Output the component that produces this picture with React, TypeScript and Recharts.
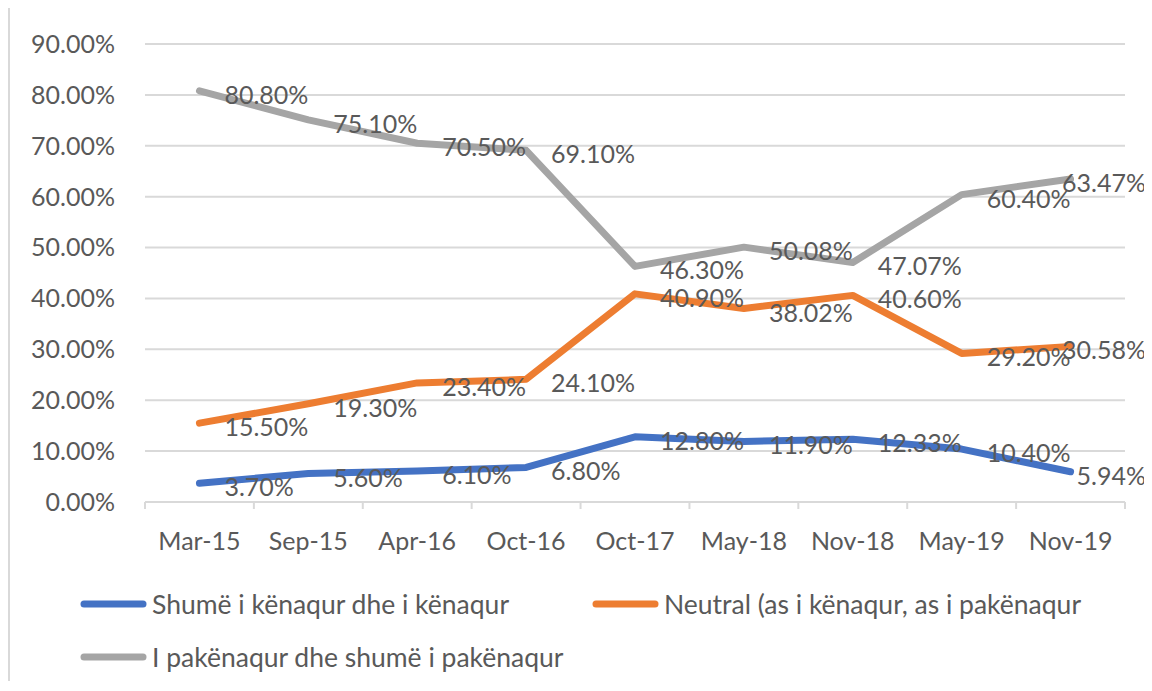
import { LineChart, Line, XAxis, YAxis, CartesianGrid, Legend, LabelList } from 'recharts'

const categories = ['Mar-15', 'Sep-15', 'Apr-16', 'Oct-16', 'Oct-17', 'May-18', 'Nov-18', 'May-19', 'Nov-19']
const satisfied = [3.7, 5.6, 6.1, 6.8, 12.8, 11.9, 12.33, 10.4, 5.94]
const neutral = [15.5, 19.3, 23.4, 24.1, 40.9, 38.02, 40.6, 29.2, 30.58]
const dissatisfied = [80.8, 75.1, 70.5, 69.1, 46.3, 50.08, 47.07, 60.4, 63.47]
const yTicks = [0, 10, 20, 30, 40, 50, 60, 70, 80, 90]

const seriesNames = [
  'Shumë i kënaqur dhe i kënaqur',
  'Neutral (as i kënaqur, as i pakënaqur',
  'I pakënaqur dhe shumë i pakënaqur',
]
const seriesColours = ['#4472C4', '#ED7D31', '#A5A5A5']

const data = categories.map((c, i) => ({
  cat: c,
  s1: satisfied[i],
  s2: neutral[i],
  s3: dissatisfied[i],
}))

// layout
const CHART_W = 1142
const CHART_H = 676
const MARGIN = { top: 39, right: 27, bottom: 119, left: 0 }
const Y_AXIS_W = 135
const PLOT_W = CHART_W - MARGIN.left - MARGIN.right - Y_AXIS_W
const BAND = PLOT_W / categories.length

const FONT = 'Lato, "Open Sans", sans-serif'
const TEXT = '#595959'
const GRID = '#d9d9d9'

const fmt = (v: number) => `${v.toFixed(2)}%`

const XTick = (props: any) => {
  const { x, y, payload, index } = props
  const half = BAND / 2
  return (
    <g>
      <line x1={x - half} y1={y} x2={x - half} y2={y + 7} stroke={GRID} strokeWidth={2} />
      {index === categories.length - 1 && (
        <line x1={x + half} y1={y} x2={x + half} y2={y + 7} stroke={GRID} strokeWidth={2} />
      )}
      <text x={x} y={y + 38} textAnchor="middle" dominantBaseline="central" fill={TEXT} fontSize={25} fontFamily={FONT}>
        {payload.value}
      </text>
    </g>
  )
}

// Excel "right" labels, the last ones pushed back inside the chart area
const PointLabel = (props: any) => {
  const { x, y, value, index } = props
  const last = index === categories.length - 1
  return (
    <text
      x={last ? CHART_W - 6 : x + 25}
      y={y + 3}
      textAnchor={last ? 'end' : 'start'}
      dominantBaseline="central"
      fill={TEXT}
      fontSize={25}
      fontFamily={FONT}
    >
      {fmt(value)}
    </text>
  )
}

const legendSpots = [
  { left: 70, top: 29 },
  { left: 582, top: 29 },
  { left: 70, top: 82 },
]

const LegendBox = ({ payload }: any) => {
  // keep the series order, not the draw order
  const items = seriesNames.map((n) => (payload || []).find((p: any) => p.value === n)).filter(Boolean)
  return (
    <div style={{ position: 'relative', width: CHART_W, height: 110 }}>
      {items.map((p: any, i: number) => (
        <div
          key={i}
          style={{
            position: 'absolute',
            left: legendSpots[i].left,
            top: legendSpots[i].top,
            transform: 'translateY(-50%)',
            display: 'flex',
            alignItems: 'center',
            whiteSpace: 'nowrap',
          }}
        >
          <svg width={67} height={10}>
            <line x1={4} y1={5} x2={63} y2={5} stroke={p.color} strokeWidth={7} strokeLinecap="round" />
          </svg>
          <span style={{ marginLeft: 5, color: TEXT, fontSize: 26.5, fontFamily: FONT }}>{p.value}</span>
        </div>
      ))}
    </div>
  )
}

export default function App() {
  return (
    <div
      style={{
        marginTop: -5,
        width: CHART_W,
        height: CHART_H,
        borderLeft: `2px solid ${GRID}`,
        borderTop: `2px solid ${GRID}`,
        position: 'relative',
        overflow: 'hidden',
        background: '#fff',
      }}
    >
      <LineChart width={CHART_W} height={CHART_H} data={data} margin={MARGIN}>
        <CartesianGrid vertical={false} stroke={GRID} strokeWidth={2} />
        <XAxis
          dataKey="cat"
          padding={{ left: BAND / 2, right: BAND / 2 }}
          axisLine={{ stroke: GRID, strokeWidth: 2 }}
          tickLine={false}
          tickSize={0}
          tickMargin={0}
          height={60}
          interval={0}
          tick={<XTick />}
        />
        <YAxis
          width={Y_AXIS_W}
          domain={[0, 90]}
          ticks={yTicks}
          tickFormatter={fmt}
          axisLine={false}
          tickLine={false}
          tickSize={0}
          tickMargin={30}
          tick={{ fill: TEXT, fontSize: 25, fontFamily: FONT }}
        />
        <Legend
          verticalAlign="middle"
          align="center"
          layout="horizontal"
          wrapperStyle={{ left: 0, top: 570, width: CHART_W, height: 110 }}
          content={<LegendBox />}
        />
        {['s1', 's2', 's3'].map((k, i) => (
          <Line
            key={k}
            type="linear"
            dataKey={k}
            name={seriesNames[i]}
            stroke={seriesColours[i]}
            strokeWidth={7}
            strokeLinecap="round"
            strokeLinejoin="round"
            dot={false}
            activeDot={false}
            isAnimationActive={false}
          >
            <LabelList dataKey={k} content={<PointLabel />} />
          </Line>
        ))}
      </LineChart>
    </div>
  )
}
